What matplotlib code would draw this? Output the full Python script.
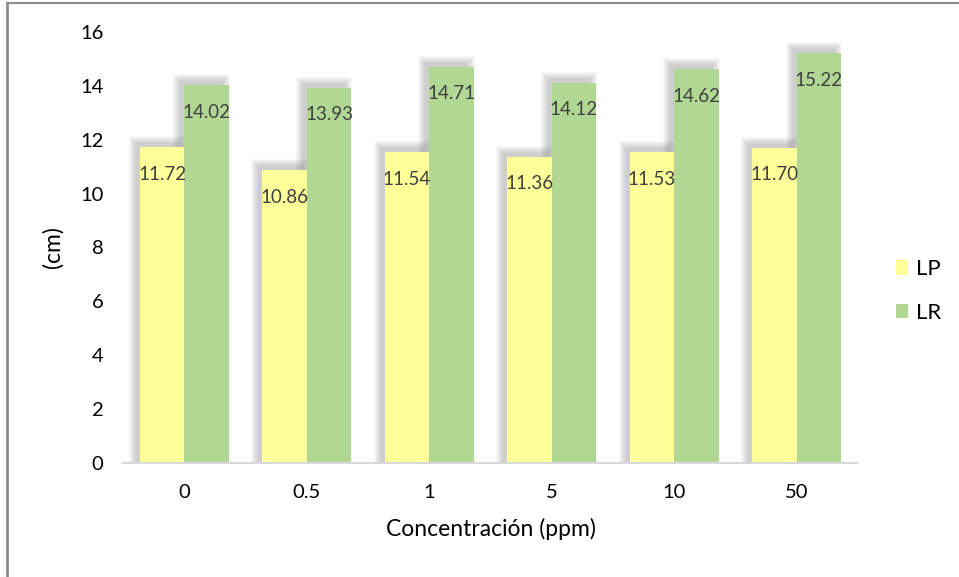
import numpy as np
import matplotlib
matplotlib.use("Agg")
import matplotlib.pyplot as plt
from matplotlib.lines import Line2D

plt.rcParams['font.family'] = ['Lato', 'DejaVu Sans']

# data
concentrations = ['0', '0.5', '1', '5', '10', '50']
lp = [11.72, 10.86, 11.54, 11.36, 11.53, 11.70]
lr = [14.02, 13.93, 14.71, 14.12, 14.62, 15.22]
series_names = ['LP', 'LR']

c_lp = '#FFFF99'
c_lr = '#B0D893'

fig = plt.figure(figsize=(9.59, 5.77), dpi=100)
ax = fig.add_axes([123/959, 1 - 463/577, (858 - 123)/959, (463 - 32)/577])

x = np.arange(len(concentrations))
w = 0.363
ax.set_xlim(-0.5, len(concentrations) - 0.5)
ax.set_ylim(0, 16)

# pixel sizes in data units (for the soft shadow)
px = 1 / 122.5
py = 16 / 431

# soft shadow, offset up-left, drawn behind the bars
for vals, x0 in ((lp, x - w), (lr, x)):
    vals = np.array(vals)
    for k in range(8):
        ax.bar(x0 - 4*px - k*px, vals + 4*py + k*py, width=w + 2*k*px - 2*px,
               align='edge', color='#808080', alpha=0.055, linewidth=0, zorder=1)

b1 = ax.bar(x - w, lp, width=w, align='edge', color=c_lp, linewidth=0, zorder=3, label=series_names[0])
b2 = ax.bar(x, lr, width=w, align='edge', color=c_lr, linewidth=0, zorder=3, label=series_names[1])

for bars, vals in ((b1, lp), (b2, lr)):
    for r, v in zip(bars, vals):
        ax.annotate(f"{v:.2f}", (r.get_x() + r.get_width()/2, v), xytext=(0, -27),
                    textcoords='offset pixels', ha='center', va='center',
                    fontsize=13.5, color='#404040', zorder=5)

ax.set_xticks(x)
ax.set_xticklabels(concentrations)
ax.set_yticks(np.arange(0, 17, 2))
ax.tick_params(axis='both', length=0, labelsize=14.5, colors='black')
ax.tick_params(axis='x', pad=15)
ax.tick_params(axis='y', pad=14)

for s in ('top', 'right', 'left'):
    ax.spines[s].set_visible(False)
ax.spines['bottom'].set_color('#D9D9D9')
ax.spines['bottom'].set_linewidth(1.5)
ax.spines['bottom'].set_zorder(4)

ax.set_xlabel('Concentración (ppm)', fontsize=16.5, labelpad=12)
ax.set_ylabel('(cm)', fontsize=16.5, labelpad=12)

ax.legend(handles=[b1, b2], loc='center left', bbox_to_anchor=(896/959, 1 - 291/577),
          bbox_transform=fig.transFigure, frameon=False, fontsize=16,
          handlelength=0.55, handleheight=0.6, handletextpad=0.35, labelspacing=1.05,
          borderpad=0, borderaxespad=0)

# outer frame fragments (left and top)
fig.add_artist(Line2D([7/959, 7/959], [0, 1 - 2.5/577], color='#8c8c8c', lw=2))
fig.add_artist(Line2D([7/959, 1], [1 - 2.5/577, 1 - 2.5/577], color='#8c8c8c', lw=1.5))

fig.savefig('out.png', dpi=100)
